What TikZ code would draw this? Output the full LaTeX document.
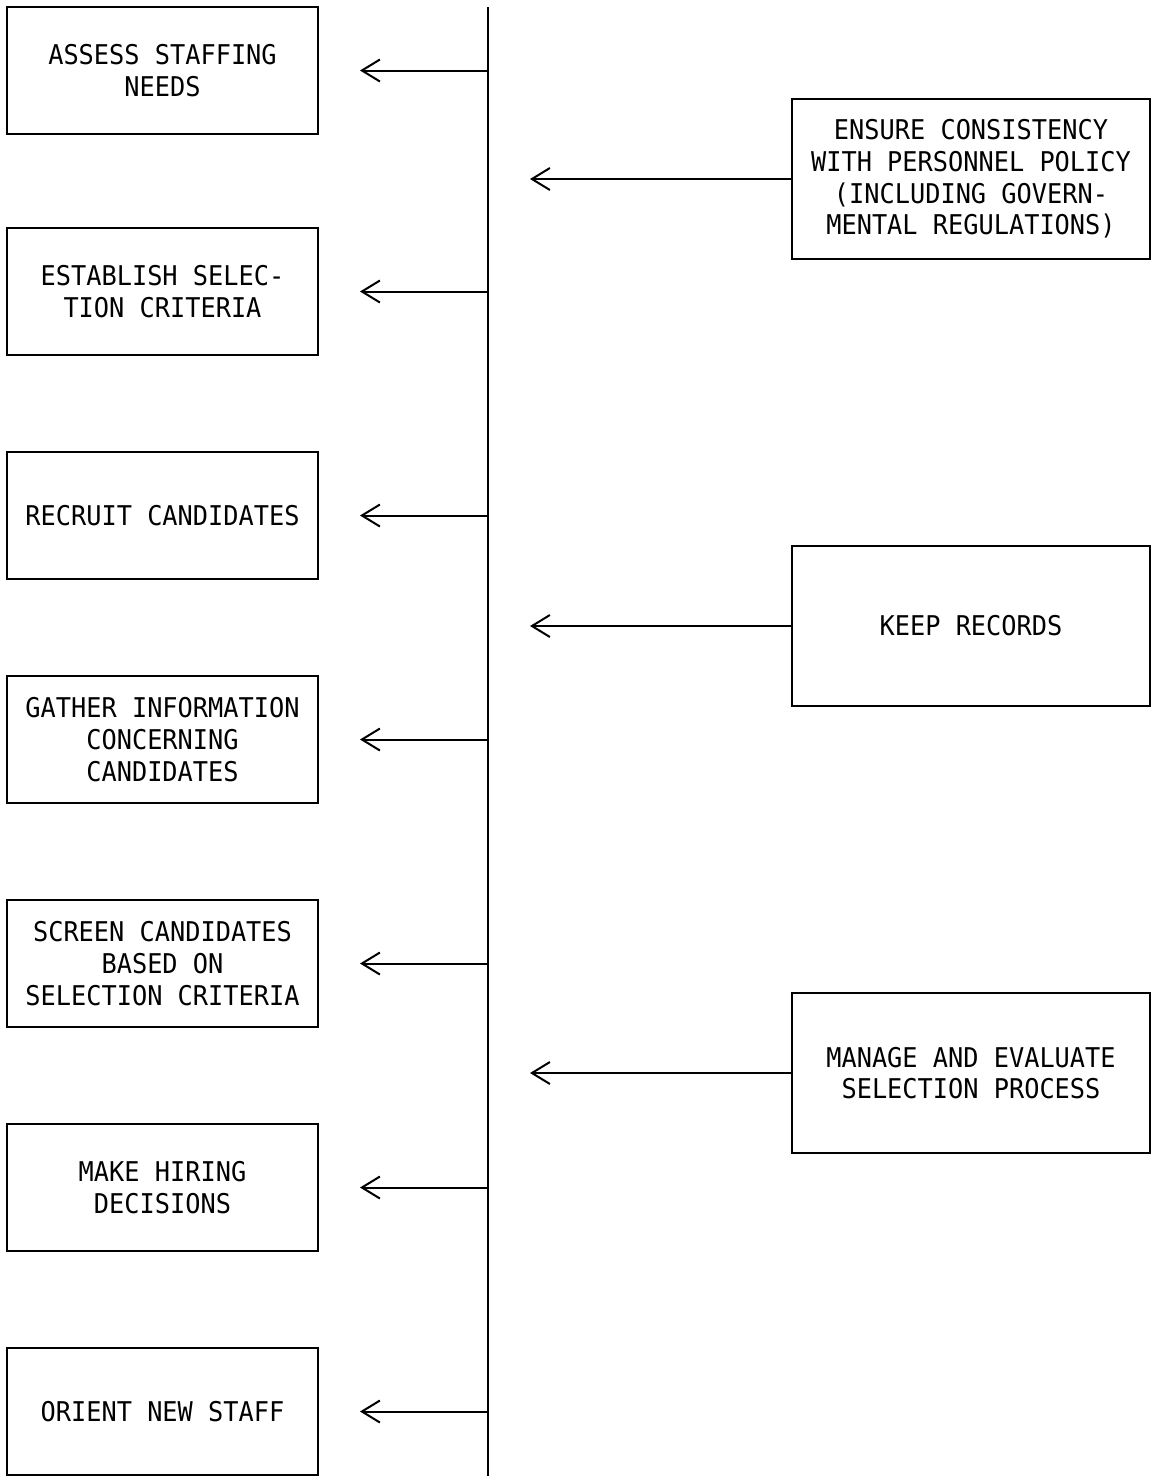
\documentclass[tikz,border=0pt]{standalone}
\usepackage{fontspec}
\setmonofont[FakeStretch=0.93]{DejaVu Sans Mono}
\usetikzlibrary{arrows.meta}
\begin{document}
\begin{tikzpicture}[x=0.5pt, y=-0.5pt, line width=1pt,
  task node/.style={draw,rectangle,minimum width=155.5pt,minimum height=63.5pt,inner sep=1pt,align=center},
  side node/.style={draw,rectangle,minimum width=179pt,minimum height=80pt,inner sep=1pt,align=center},
  tip/.style={-{Straight Barb[length=9pt,width=11pt,line width=1pt]}}]
\useasboundingbox (0,0) rectangle (1152,1480);
\begin{scope}[every node/.style={font=\ttfamily\fontsize{13.6pt}{15.8pt}\selectfont}]
\node[task node] (t1) at (162.5,70.5) {ASSESS STAFFING\\NEEDS};
\node[task node] (t2) at (162.5,291.5) {ESTABLISH SELEC-\\TION CRITERIA};
\node[task node] (t3) at (162.5,515.5) {RECRUIT CANDIDATES};
\node[task node] (t4) at (162.5,739.5) {GATHER INFORMATION\\CONCERNING\\CANDIDATES};
\node[task node] (t5) at (162.5,963.5) {SCREEN CANDIDATES\\BASED ON\\SELECTION CRITERIA};
\node[task node] (t6) at (162.5,1187.5) {MAKE HIRING\\DECISIONS};
\node[task node] (t7) at (162.5,1411.5) {ORIENT NEW STAFF};
\node[side node] (r1) at (971,179) {ENSURE CONSISTENCY\\WITH PERSONNEL POLICY\\(INCLUDING GOVERN-\\MENTAL REGULATIONS)};
\node[side node] (r2) at (971,626) {KEEP RECORDS};
\node[side node] (r3) at (971,1073) {MANAGE AND EVALUATE\\SELECTION PROCESS};
\end{scope}
% spine
\coordinate (top) at (488,7);
\coordinate (bot) at (488,1476);
\draw (top) -- (bot);
% arrows to the tasks
\foreach \i/\y in {1/70.5,2/291.5,3/515.5,4/739.5,5/963.5,6/1187.5,7/1411.5}{
  \coordinate (s\i) at (488,\y);
  \coordinate (a\i) at (360,\y);
  \draw[tip] (s\i) -- (a\i);
}
% arrows from the side tasks
\foreach \i/\y in {1/179,2/626,3/1073}{
  \coordinate (b\i) at (530,\y);
  \draw[tip] (r\i.west) -- (b\i);
}
\end{tikzpicture}
\end{document}
